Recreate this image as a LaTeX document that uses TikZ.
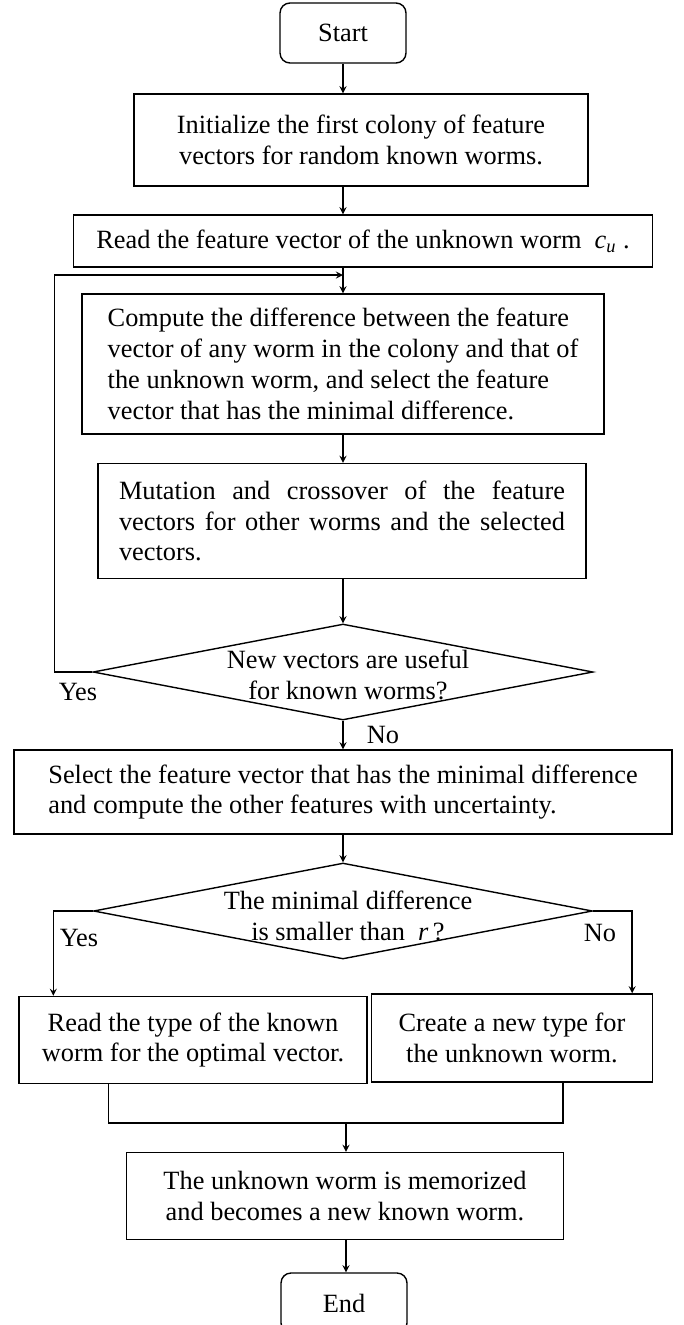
\documentclass[tikz,border=0pt]{standalone}
\usepackage{fontspec}
\setmainfont{Liberation Serif}
\usetikzlibrary{shapes.geometric,calc}

\tikzset{
  process/.style={draw,line width=.8pt,inner sep=0pt,align=center},
  terminal/.style={process,rounded corners=0.2cm,minimum width=2.52cm,minimum height=1.2cm},
  decision/.style={draw,line width=.8pt,diamond,inner sep=0pt,minimum width=10cm,minimum height=1.92cm},
  flowline/.style={line width=.8pt,->},
}

\begin{document}
\begin{tikzpicture}[>=stealth,x=0.02cm,y=-0.02cm,font=\fontsize{15}{17.5}\selectfont]
\useasboundingbox (0,0) rectangle (683,1325);
% boxes
\node[terminal] (start) at (343,33) {Start};
\node[process,minimum width=9.08cm,minimum height=1.84cm] (init) at (361,140)
  {Initialize the first colony of feature\\vectors for random known worms.};
\node[process,minimum width=11.58cm,minimum height=1.04cm] (read) at (363,241)
  {Read the feature vector of the unknown worm\ \ \textit{c}\textsubscript{\textit{u}}\ .};
\node[process,align=left,minimum width=10.44cm,minimum height=2.8cm] (compute) at (343,364)
  {Compute the difference between the feature\\vector of any worm in the colony and that of\\the unknown worm, and select the feature\\vector that has the minimal difference.};
\node[process,align=justify,text width=8.92cm,minimum width=9.76cm,minimum height=2.3cm] (mutation) at (342,521)
  {Mutation and crossover of the feature\linebreak vectors for other worms and the selected\linebreak vectors.};
\node[decision] (d1) at (343,672) {};
\node[align=center] (d1text) at (348,675) {New vectors are useful\\for known worms?};
\node[process,align=left,minimum width=13.16cm,minimum height=1.68cm] (select) at (343,792)
  {Select the feature vector that has the minimal difference\\and compute the other features with uncertainty.};
\node[decision,minimum width=9.98cm] (d2) at (343,911) {};
\node[align=center] (d2text) at (348,916) {The minimal difference\\is smaller than\ \ \textit{r}\,?};
\node[process,minimum width=6.96cm,minimum height=1.74cm] (leftbox) at (193,1040)
  {Read the type of the known\\worm for the optimal vector.};
\node[process,minimum width=5.62cm,minimum height=1.76cm] (rightbox) at (512,1038)
  {Create a new type for\\the unknown worm.};
\node[process,minimum width=8.74cm,minimum height=1.74cm] (memo) at (345,1196)
  {The unknown worm is memorized\\and becomes a new known worm.};
\node[terminal] (stop) at (344,1303) {End};
% labels
\node (yes1) at (78,692) {Yes};
\node (no1) at (383,735) {No};
\node (yes2) at (79,938) {Yes};
\node (no2) at (600,933) {No};
% connectors
\coordinate (join) at (343,275);
\coordinate (merge) at (346,1123);
\draw[flowline] (start) -- (start |- init.north);
\draw[flowline] (init.south -| start) -- (start |- read.north);
\draw[flowline] (read.south -| start) -- (start |- compute.north);
\draw[flowline] (compute.south -| start) -- (start |- mutation.north);
\draw[flowline] (mutation.south -| d1) -- (d1.north);
\draw[flowline] (d1.south) -- (d1.south |- select.north);
\draw[flowline] (select.south -| d2) -- (d2.north);
\draw[flowline] (d1.west) -- ++(-38,0) |- (join);
\draw[flowline] (d2.west) -| ($(leftbox.north west)+(35,0)$);
\draw[flowline] (d2.east) -| ($(rightbox.north east)+(-21,0)$);
\draw[line width=.8pt] ($(leftbox.south west)+(90,0)$) |- (merge) -| ($(rightbox.south east)+(-90,0)$);
\draw[flowline] (merge) -- (merge |- memo.north);
\draw[flowline] (memo.south -| merge) -- (merge |- stop.north);
\end{tikzpicture}
\end{document}
